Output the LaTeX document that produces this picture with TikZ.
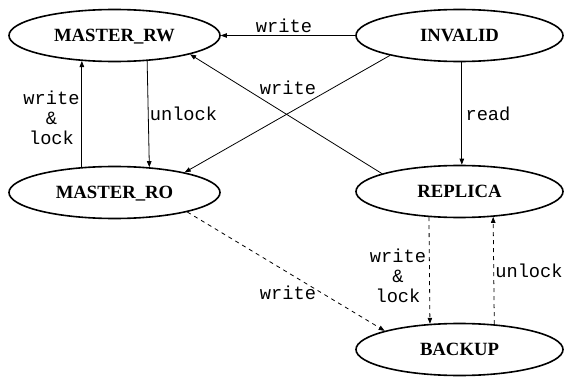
\documentclass[tikz,border=0pt]{standalone}
\usepackage{fontspec}
\setmainfont{Liberation Serif}
\setmonofont{Liberation Mono}
\usetikzlibrary{shapes.geometric,arrows.meta}
\begin{document}
\begin{tikzpicture}[x=1pt,y=-1pt,
  state/.style={ellipse, draw, line width=1.6pt, inner sep=0pt, minimum height=52pt,
    font=\fontsize{18.7}{20}\selectfont\bfseries, text height=12.4pt, text depth=0pt},
  tr/.style={-{Triangle[length=6pt,width=4.5pt]}, line width=0.8pt},
  dsh/.style={tr, dash pattern=on 4pt off 4pt},
  lbl/.style={font=\fontsize{18.7}{20}\selectfont\ttfamily, inner sep=0pt, anchor=base, align=center}
]
\useasboundingbox (0,0) rectangle (566,380);
\node[state, minimum width=211pt] (rw)  at (114.5,35.5)  {MASTER\_RW};
\node[state, minimum width=207pt] (inv) at (459.5,35.5)  {INVALID};
\node[state, minimum width=211pt] (ro)  at (114.5,192.5) {MASTER\_RO};
\node[state, minimum width=207pt] (rep) at (459.5,191.5) {REPLICA};
\node[state, minimum width=207pt] (bk)  at (459.5,349.5) {BACKUP};

\draw[tr] (inv.west) -- (rw.east);
\draw[tr] (rep.167) -- (rw.346);
\draw[tr] (inv.196) -- (ro.16);
\draw[tr] (ro.142.35) -- (rw.218.2);
\draw[tr] (rw.322.8) -- (ro.36.8);
\draw[tr] (inv.275) -- (rep.85);
\draw[dsh] (ro.345) -- (bk.166.2);
\draw[dsh] (rep.220.2) -- (bk.139.8);
\draw[dsh] (bk.36.3) -- (rep.323.7);

\node[lbl] (l1) at (284,32) {write};
\node[lbl] (l2) at (288,94.3) {write};
\node[lbl] (l3) at (51.5,144) {write\\\&\\lock};
\node[lbl] (l4) at (183.5,120) {unlock};
\node[lbl] (l5) at (488,120) {read};
\node[lbl] (l6) at (288,299.3) {write};
\node[lbl] (l7) at (398,302) {write\\\&\\lock};
\node[lbl] (l8) at (529,277) {unlock};
\end{tikzpicture}
\end{document}
